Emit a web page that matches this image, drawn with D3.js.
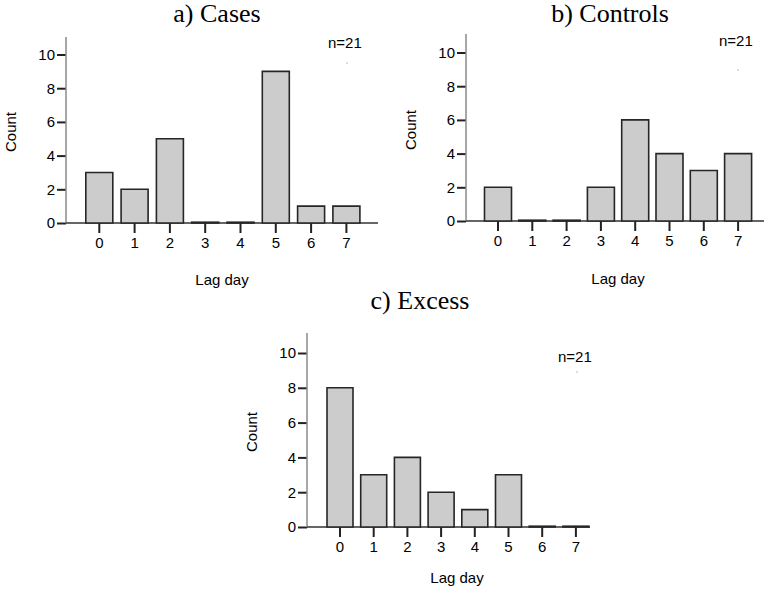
<!DOCTYPE html>
<html>
<head>
<meta charset="utf-8">
<script src="https://cdn.jsdelivr.net/npm/d3@7"></script>
<style>
  body { margin: 0; background: #fff; }
  .tick-label { font-family: "Liberation Sans", Arial, sans-serif; font-size: 15px; fill: #000; }
  .axis-title { font-family: "Liberation Sans", Arial, sans-serif; font-size: 15px; fill: #000; }
  .panel-title { font-family: "Liberation Serif", "Times New Roman", serif; font-size: 26px; fill: #000; }
</style>
</head>
<body>
<div id="dataviz"></div>
<script>
// data
var lagDays = [0, 1, 2, 3, 4, 5, 6, 7];
var casesCounts = [3, 2, 5, 0, 0, 9, 1, 1];
var controlsCounts = [2, 0, 0, 2, 6, 4, 3, 4];
var excessCounts = [8, 3, 4, 2, 1, 3, 0, 0];
var yTicks = [0, 2, 4, 6, 8, 10];
var panelTitles = ["a) Cases", "b) Controls", "c) Excess"];
var nLabel = "n=21";

var svg = d3.select("#dataviz").append("svg")
    .attr("width", 764)
    .attr("height", 591);

// layout of each panel (pixels)
var panels = [
    { title: panelTitles[0], data: casesCounts,
      axisX: 66, zeroY: 223, topY: 37, unit: 16.85, band0: 99.3, step: 35.3, barW: 27, xEnd: 378,
      titleX: 217, titleY: 22, countX: 16, countY: 132, lagX: 222, lagY: 285,
      nX: 328, nY: 48, dotX: 347, dotY: 63 },
    { title: panelTitles[1], data: controlsCounts,
      axisX: 466, zeroY: 221, topY: 34, unit: 16.85, band0: 498, step: 34.3, barW: 27, xEnd: 764,
      titleX: 610, titleY: 22, countX: 416, countY: 130, lagX: 618, lagY: 284,
      nX: 719, nY: 46, dotX: 738, dotY: 70 },
    { title: panelTitles[2], data: excessCounts,
      axisX: 307, zeroY: 527, topY: 333, unit: 17.4, band0: 340, step: 33.7, barW: 26, xEnd: 590,
      titleX: 420, titleY: 309, countX: 257, countY: 432, lagX: 457, lagY: 583,
      nX: 558, nY: 362, dotX: 577, dotY: 372 }
];

panels.forEach(drawPanel);

function drawPanel(p) {
    var g = svg.append("g");

    var x = d3.scaleBand()
        .domain(lagDays)
        .range([p.band0 - p.step / 2, p.band0 - p.step / 2 + p.step * lagDays.length])
        .paddingInner(1 - p.barW / p.step)
        .paddingOuter((1 - p.barW / p.step) / 2);

    var y = d3.scaleLinear()
        .domain([0, 10])
        .range([p.zeroY, p.zeroY - 10 * p.unit]);

    // y axis
    var yAxis = g.append("g")
        .attr("transform", "translate(" + p.axisX + ",0)")
        .call(d3.axisLeft(y).tickValues(yTicks).tickSize(9).tickPadding(2).tickSizeOuter(0));
    yAxis.select(".domain").remove();
    yAxis.append("line")
        .attr("x1", 0).attr("x2", 0)
        .attr("y1", p.topY).attr("y2", p.zeroY)
        .attr("stroke", "#8a8a8a").attr("stroke-width", 1.5);
    yAxis.selectAll(".tick line").attr("stroke", "#222").attr("stroke-width", 2);
    yAxis.selectAll(".tick text").attr("class", "tick-label").attr("font-size", null).attr("font-family", null);

    // x axis
    var xAxis = g.append("g")
        .attr("transform", "translate(0," + p.zeroY + ")")
        .call(d3.axisBottom(x).tickSize(10).tickPadding(4).tickSizeOuter(0));
    xAxis.select(".domain").remove();
    xAxis.insert("line", ":first-child")
        .attr("x1", p.axisX).attr("x2", p.xEnd)
        .attr("y1", 0).attr("y2", 0)
        .attr("stroke", "#333").attr("stroke-width", 1.6);
    xAxis.selectAll(".tick line").attr("stroke", "#222").attr("stroke-width", 2);
    xAxis.selectAll(".tick text").attr("class", "tick-label").attr("font-size", null).attr("font-family", null);

    // bars (closed paths so that zero counts still show as a flat outline)
    g.selectAll("path.bar")
        .data(p.data)
        .enter().append("path")
        .attr("class", "bar")
        .attr("d", function(d, i) {
            var x0 = x(lagDays[i]), x1 = x0 + x.bandwidth();
            var yTop = d > 0 ? y(d) : y(0) - 0.8;
            return "M" + x0 + "," + y(0) + "V" + yTop + "H" + x1 + "V" + y(0) + "Z";
        })
        .attr("fill", "#cccccc")
        .attr("stroke", "#262626")
        .attr("stroke-width", 1.6);

    // labels
    g.append("text")
        .attr("class", "panel-title")
        .attr("x", p.titleX).attr("y", p.titleY)
        .attr("text-anchor", "middle")
        .text(p.title);

    g.append("text")
        .attr("class", "axis-title")
        .attr("transform", "translate(" + p.countX + "," + p.countY + ") rotate(-90)")
        .attr("text-anchor", "middle")
        .text("Count");

    g.append("text")
        .attr("class", "axis-title")
        .attr("x", p.lagX).attr("y", p.lagY)
        .attr("text-anchor", "middle")
        .text("Lag day");

    g.append("text")
        .attr("class", "tick-label")
        .attr("x", p.nX).attr("y", p.nY)
        .text(nLabel);

    g.append("circle")
        .attr("cx", p.dotX).attr("cy", p.dotY)
        .attr("r", 0.8)
        .attr("fill", "#b0b0b0");
}
</script>
</body>
</html>
